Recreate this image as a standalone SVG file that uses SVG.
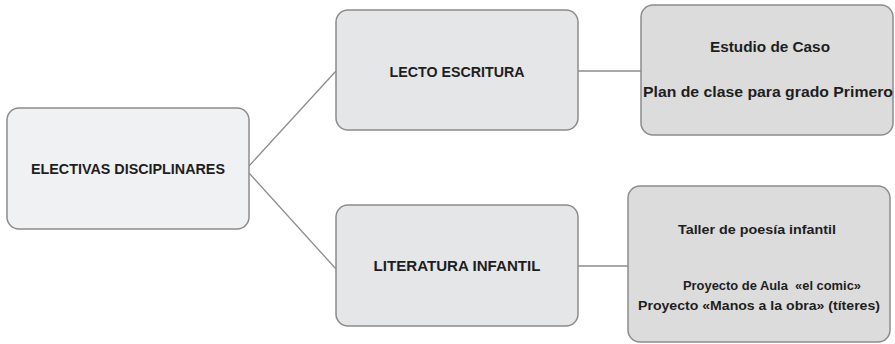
<svg xmlns="http://www.w3.org/2000/svg" width="895" height="344" viewBox="0 0 895 344">
<style>
.box{stroke:#8c8c8c;stroke-width:1.5}
.l1{fill:#f0f1f3}
.l2{fill:#e5e6e8}
.l3{fill:#dcdcdd}
.t{font-family:"Liberation Sans",Arial,sans-serif;font-weight:bold;fill:#1e1e1e}
.edge{stroke:#8c8c8c;stroke-width:1.3;fill:none}
</style>
<rect width="895" height="344" fill="#ffffff"/>
<g id="connectors">
<line class="edge" x1="249" y1="166" x2="336" y2="71"/>
<line class="edge" x1="249" y1="173" x2="336" y2="269"/>
<line class="edge" x1="578" y1="71" x2="641" y2="71"/>
<line class="edge" x1="578" y1="266" x2="628" y2="266"/>
</g>
<g id="electivas">
<rect class="box l1" x="7" y="108" width="242" height="121" rx="12"/>
<text class="t" x="128" y="174" font-size="15" text-anchor="middle" textLength="194" lengthAdjust="spacingAndGlyphs">ELECTIVAS DISCIPLINARES</text>
</g>
<g id="lecto">
<rect class="box l2" x="336" y="10" width="242" height="120" rx="12"/>
<text class="t" x="457" y="77" font-size="15" text-anchor="middle" textLength="135" lengthAdjust="spacingAndGlyphs">LECTO ESCRITURA</text>
</g>
<g id="literatura">
<rect class="box l2" x="336" y="205" width="242" height="121" rx="12"/>
<text class="t" x="457" y="271" font-size="15" text-anchor="middle" textLength="167" lengthAdjust="spacingAndGlyphs">LITERATURA INFANTIL</text>
</g>
<g id="estudio">
<rect class="box l3" x="641" y="5" width="252" height="130" rx="12"/>
<text class="t" x="770" y="52" font-size="15" text-anchor="middle" textLength="120" lengthAdjust="spacingAndGlyphs">Estudio de Caso</text>
<text class="t" x="768" y="97" font-size="15" text-anchor="middle" textLength="250" lengthAdjust="spacingAndGlyphs">Plan de clase para grado Primero</text>
</g>
<g id="taller">
<rect class="box l3" x="628" y="186" width="262" height="156" rx="12"/>
<text class="t" x="757" y="234" font-size="13" text-anchor="middle" textLength="158" lengthAdjust="spacingAndGlyphs">Taller de poesía infantil</text>
<text class="t" x="772" y="290" font-size="13" text-anchor="middle" textLength="178" lengthAdjust="spacingAndGlyphs">Proyecto de Aula&#160; «el comic»</text>
<text class="t" x="759" y="310" font-size="13" text-anchor="middle" textLength="242" lengthAdjust="spacingAndGlyphs">Proyecto «Manos a la obra» (títeres)</text>
</g>
</svg>
